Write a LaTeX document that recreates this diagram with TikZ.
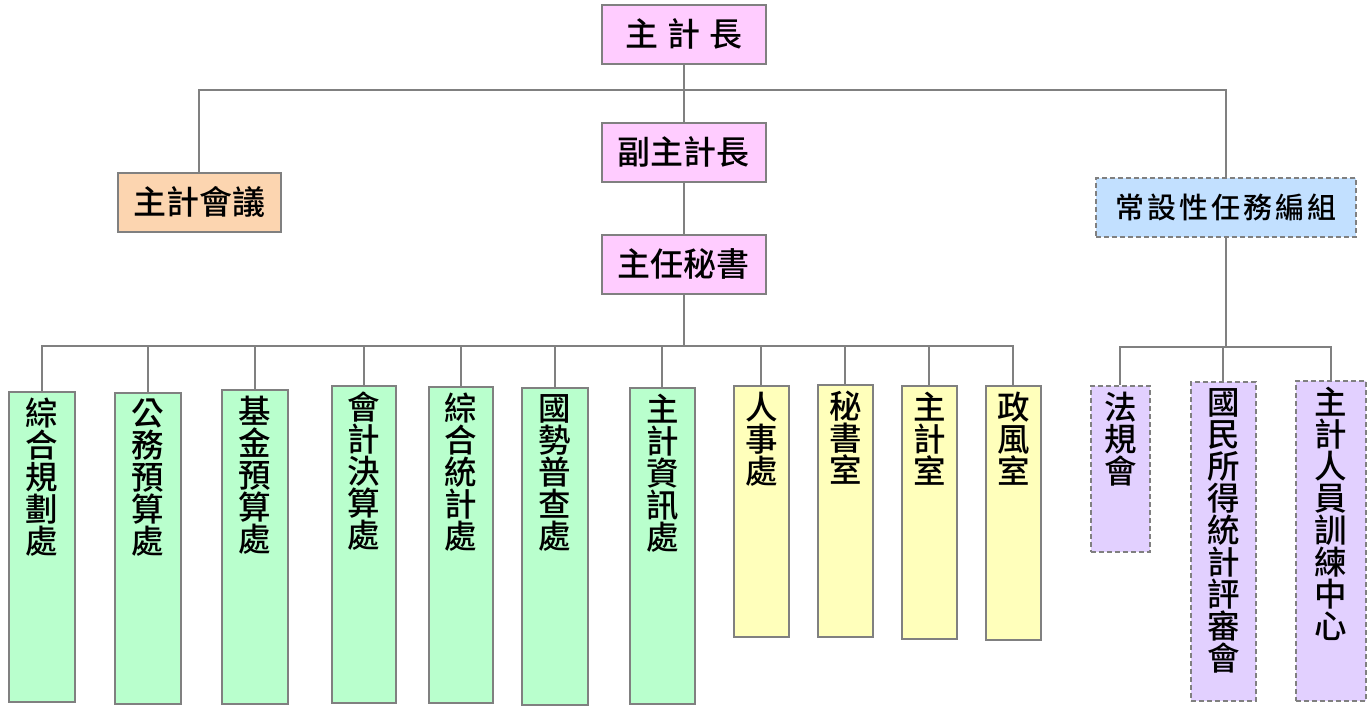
\documentclass[tikz,border=0pt]{standalone}
\usepackage{fontspec}
\newfontfamily\cjk{Noto Sans CJK TC}[BoldFont={Noto Sans CJK TC Medium}]
\definecolor{linegray}{RGB}{128,128,128}
\definecolor{pinkfill}{RGB}{255,204,255}
\definecolor{peachfill}{RGB}{252,213,176}
\definecolor{bluefill}{RGB}{194,224,255}
\definecolor{greenfill}{RGB}{185,255,205}
\definecolor{yellowfill}{RGB}{255,255,187}
\definecolor{purplefill}{RGB}{226,208,255}
\tikzset{
  orgbox/.style={draw=linegray, line width=1.6pt, inner sep=0pt, anchor=north west},
  dashbox/.style={orgbox, dash pattern=on 5pt off 3pt},
  conn/.style={draw=linegray, line width=1.8pt},
  htext/.style={font=\cjk\bfseries\fontsize{33}{34}\selectfont},
  vtext/.style={font=\cjk\bfseries\fontsize{32.5}{32}\selectfont, align=center, inner sep=0pt, anchor=north},
}
% #1 name, #2 x1, #3 y1, #4 x2, #5 y2, #6 style
\newcommand\placebox[6]{%
  \node[#6, minimum width={#4-#2}, minimum height={#5-#3}] (#1) at (#2,#3) {};}
\newcommand\placevtext[2]{%
  \node[vtext] (#1-t) at ([yshift=-7pt]#1.north) {#2};}
\begin{document}
\begin{tikzpicture}[x=1pt,y=-1pt]
\useasboundingbox (0,0) rectangle (1367,708);

% top boxes
\node[orgbox, fill=pinkfill, htext, minimum width=164, minimum height=59] (zhu) at (601,4) {主\hspace{9pt}計\hspace{9pt}長};
\node[orgbox, fill=pinkfill, htext, minimum width=164, minimum height=59] (fu) at (601,122) {副主計長};
\node[orgbox, fill=pinkfill, htext, minimum width=164, minimum height=59] (mishu) at (601,234) {主任秘書};
\node[orgbox, fill=peachfill, htext, minimum width=163, minimum height=59] (hui) at (117,172) {主計會議};
\node[dashbox, fill=bluefill, font=\cjk\bfseries\fontsize{29}{30}\selectfont, minimum width=260, minimum height=59] (chang) at (1095,177) {常\hspace{3pt}設\hspace{3pt}性\hspace{3pt}任\hspace{3pt}務\hspace{3pt}編\hspace{3pt}組};

% bottom boxes
\placebox{g1}{8}{391}{74}{701}{orgbox, fill=greenfill}
\placebox{g2}{114}{392}{180}{703}{orgbox, fill=greenfill}
\placebox{g3}{221}{389}{287}{703}{orgbox, fill=greenfill}
\placebox{g4}{331}{385}{395}{702}{orgbox, fill=greenfill}
\placebox{g5}{428}{386}{492}{702}{orgbox, fill=greenfill}
\placebox{g6}{521}{387}{587}{704}{orgbox, fill=greenfill}
\placebox{g7}{629}{387}{694}{703}{orgbox, fill=greenfill}
\placebox{y1}{733}{385}{788}{636}{orgbox, fill=yellowfill}
\placebox{y2}{817}{384}{872}{636}{orgbox, fill=yellowfill}
\placebox{y3}{901}{385}{956}{638}{orgbox, fill=yellowfill}
\placebox{y4}{985}{385}{1040}{639}{orgbox, fill=yellowfill}
\placebox{p1}{1090}{385}{1149}{551}{dashbox, fill=purplefill}
\placebox{p2}{1190}{381}{1255}{700}{dashbox, fill=purplefill}
\placebox{p3}{1295}{380}{1365}{700}{dashbox, fill=purplefill}

\placevtext{g1}{綜\\合\\規\\劃\\處}
\placevtext{g2}{公\\務\\預\\算\\處}
\placevtext{g3}{基\\金\\預\\算\\處}
\placevtext{g4}{會\\計\\決\\算\\處}
\placevtext{g5}{綜\\合\\統\\計\\處}
\placevtext{g6}{國\\勢\\普\\查\\處}
\placevtext{g7}{主\\計\\資\\訊\\處}
\placevtext{y1}{人\\事\\處}
\placevtext{y2}{秘\\書\\室}
\placevtext{y3}{主\\計\\室}
\placevtext{y4}{政\\風\\室}
\placevtext{p1}{法\\規\\會}
\placevtext{p2}{國\\民\\所\\得\\統\\計\\評\\審\\會}
\placevtext{p3}{主\\計\\人\\員\\訓\\練\\中\\心}

% bus coordinates
\coordinate (r90) at (0,90);
\coordinate (r346) at (0,346);
\coordinate (r347) at (0,347);
\coordinate (b1) at (zhu.south |- r90);
\coordinate (b2) at (mishu.south |- r346);
\coordinate (b3) at (chang.south |- r347);

% connectors
\draw[conn] (zhu.south) -- (fu.north);
\draw[conn] (hui.north) |- (b1) -| (chang.north);
\draw[conn] (fu.south) -- (mishu.north);
\draw[conn] (mishu.south) -- (b2);
\foreach \n in {g1,g2,g3,g4,g5,g6,g7,y1,y2,y3,y4}{
  \draw[conn] (\n.north) |- (b2);
}
\draw[conn] (chang.south) -- (b3);
\foreach \n in {p1,p2,p3}{
  \draw[conn] (\n.north) |- (b3);
}
\end{tikzpicture}
\end{document}
